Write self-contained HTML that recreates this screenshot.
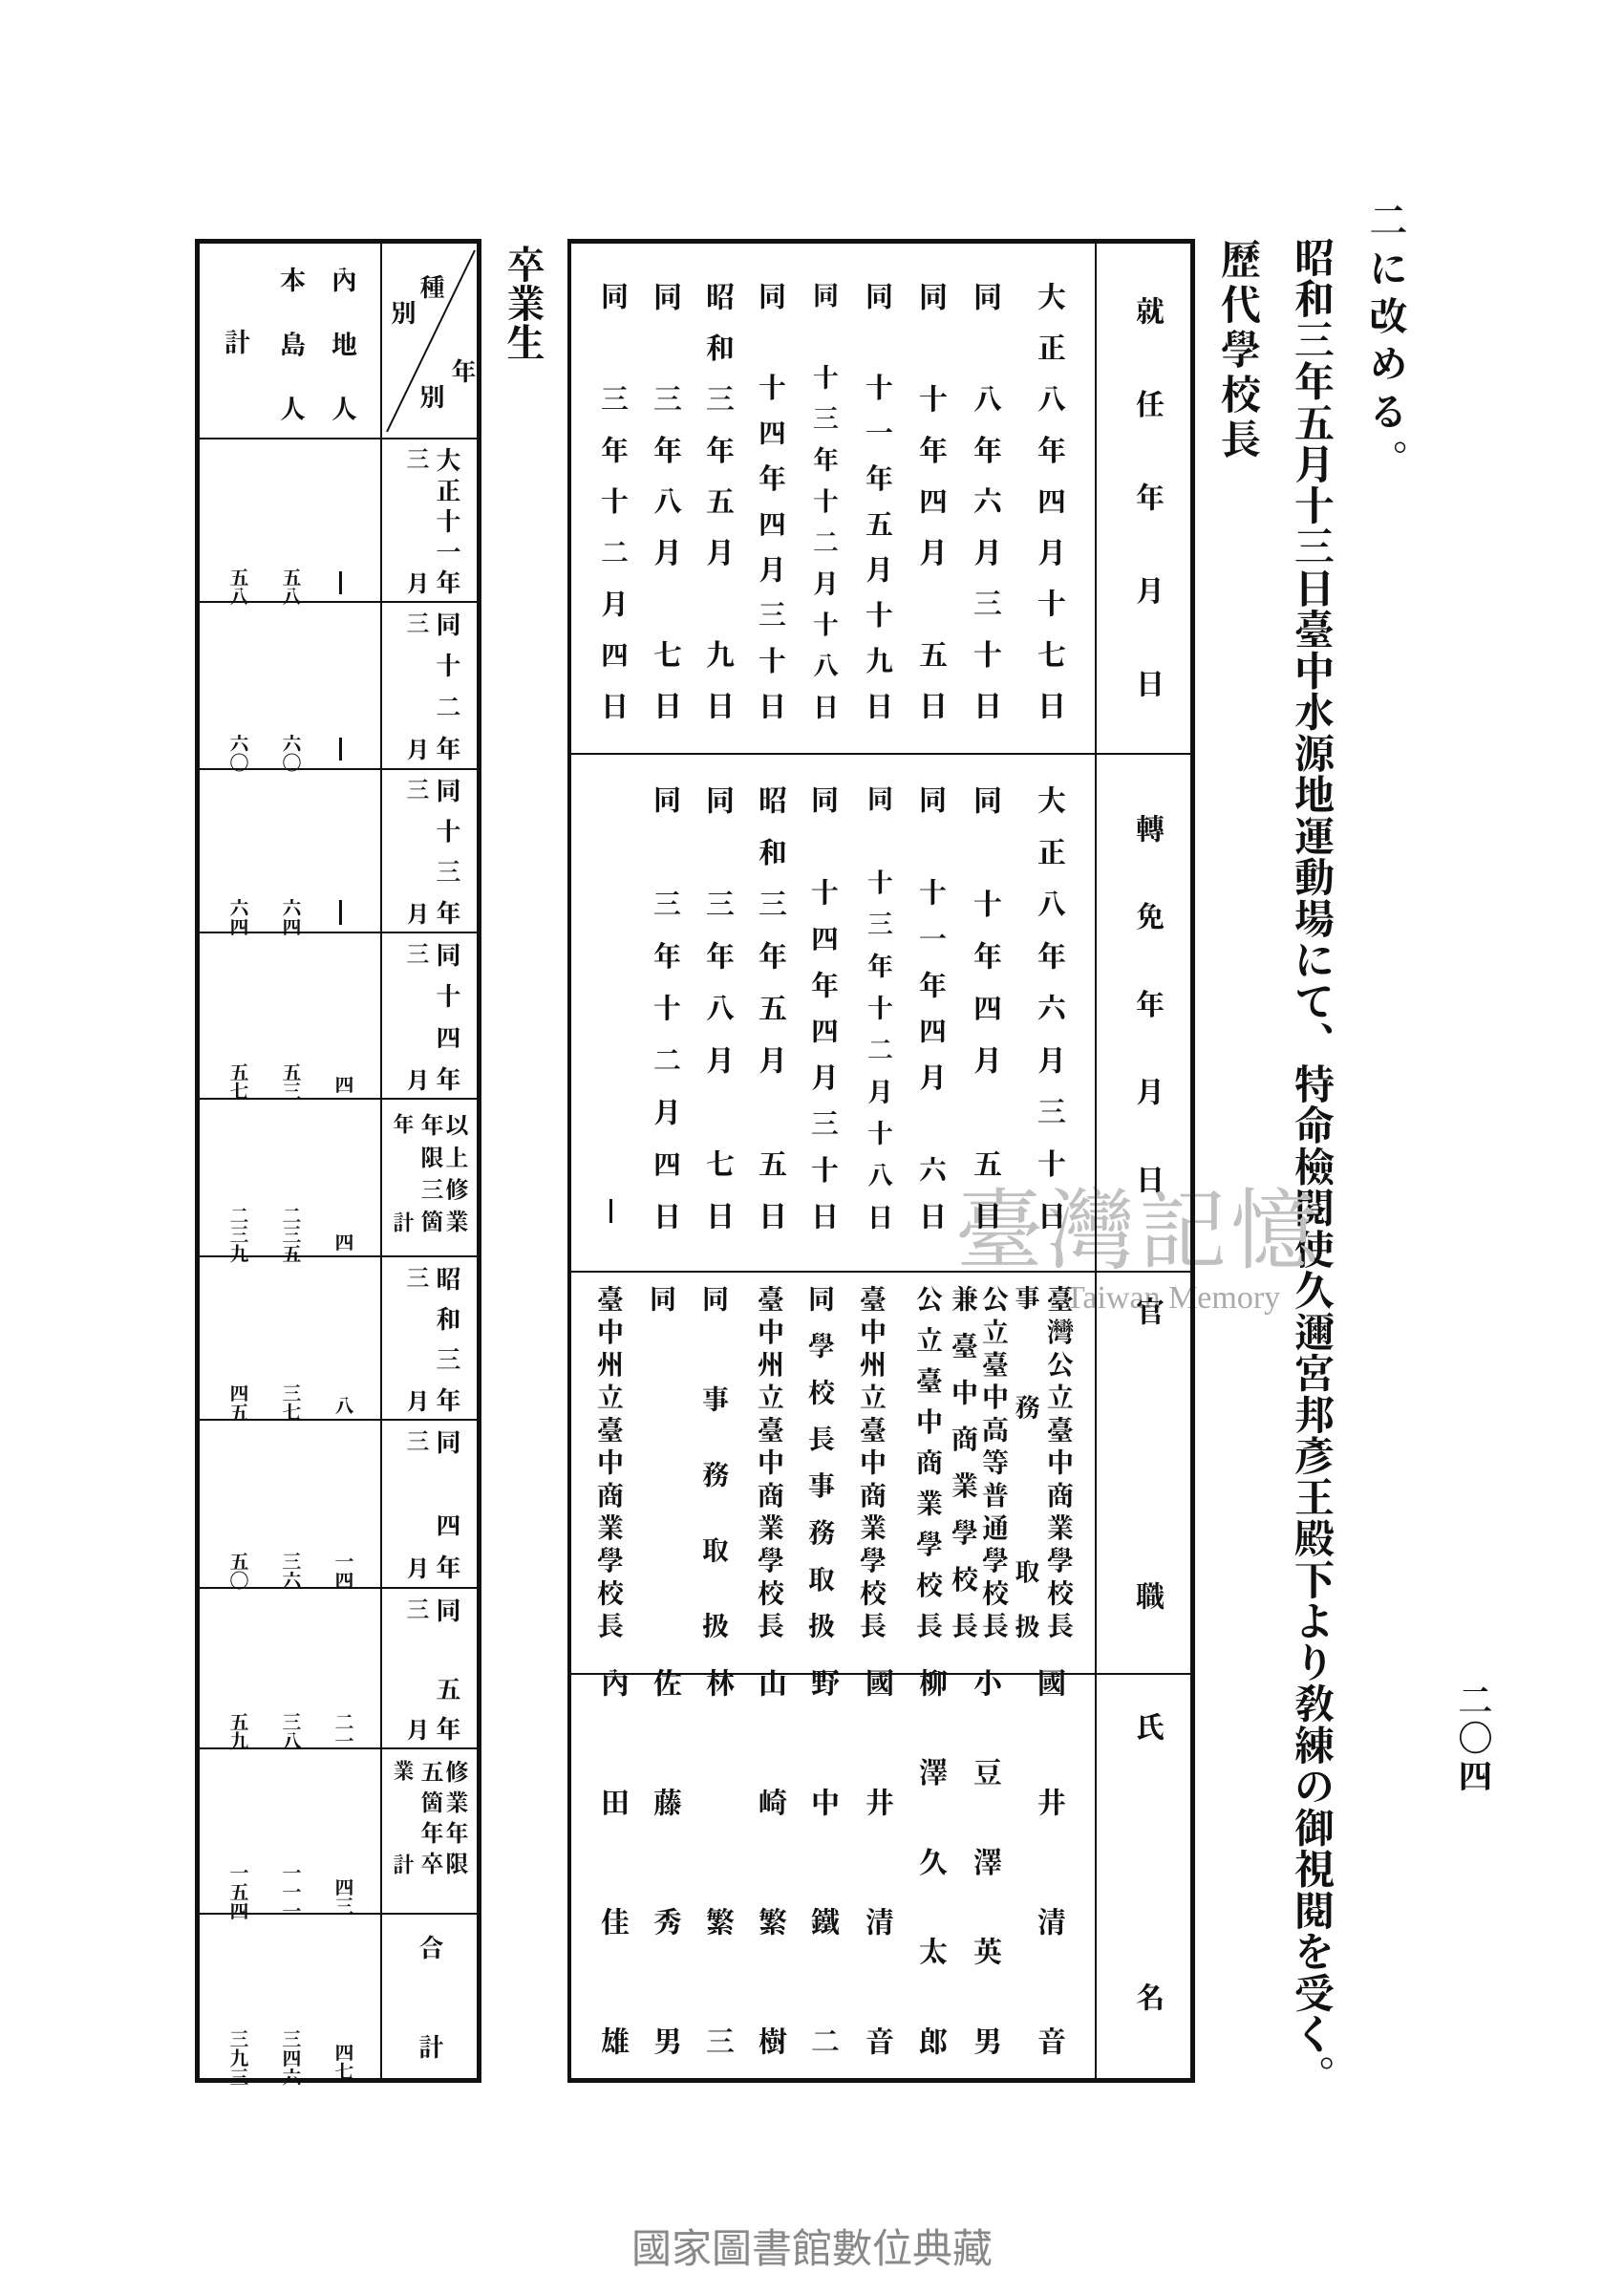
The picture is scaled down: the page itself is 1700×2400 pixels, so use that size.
<!DOCTYPE html>
<html><head><meta charset="utf-8">
<style>
html,body{margin:0;padding:0;background:#fff;}
#p{position:relative;width:1700px;height:2400px;overflow:hidden;background:#fff;}
.c{position:absolute;writing-mode:vertical-rl;text-align:justify;text-align-last:justify;line-height:1;font-family:"Liberation Serif","Noto Serif CJK JP","Noto Serif CJK SC",serif;font-weight:bold;color:#111;white-space:nowrap;}
.n{position:absolute;writing-mode:vertical-rl;line-height:0.75;font-family:"Liberation Serif","Noto Serif CJK JP",serif;font-weight:bold;font-size:20px;width:20px;color:#111;}
.l{position:absolute;background:#111;}
</style></head><body><div id="p">

<div class="c" style="left:1430px;top:210px;height:290px;font-size:40px;width:40px">二に改める。</div>
<div class="c" style="left:1351px;top:248px;height:1945px;font-size:42px;width:42px">昭和三年五月十三日臺中水源地運動場にて、特命檢閱使久邇宮邦彥王殿下より敎練の御視閱を受く。</div>
<div class="c" style="left:1274px;top:250px;height:230px;font-size:42px;width:42px">歷代學校長</div>
<div class="c" style="left:1524px;top:1761px;height:115px;font-size:36px;width:36px">二〇四</div>
<div class="c" style="left:527px;top:256px;height:122px;font-size:40px;width:40px">卒業生</div>

<div style="position:absolute;left:1000px;top:1215px;font-family:'Noto Serif CJK SC',serif;font-size:92px;color:#c0c0c0;letter-spacing:4px">臺灣記憶</div>
<div style="position:absolute;left:1115px;top:1340px;font-family:'Liberation Serif',serif;font-size:34px;color:#aaa">Taiwan Memory</div>

<div style="position:absolute;left:650px;top:2320px;width:400px;text-align:center;font-family:'Liberation Sans','Noto Sans CJK TC',sans-serif;font-size:42px;color:#888">國家圖書館數位典藏</div>

<div class="l" style="left:595px;top:250px;width:656px;height:5px"></div>
<div class="l" style="left:595px;top:2175px;width:656px;height:5px"></div>
<div class="l" style="left:594px;top:250px;width:4px;height:1930px"></div>
<div class="l" style="left:1246px;top:250px;width:5px;height:1930px"></div>
<div class="l" style="left:1146px;top:255px;width:2px;height:1922px"></div>
<div class="l" style="left:598px;top:788px;width:650px;height:2px"></div>
<div class="l" style="left:598px;top:1330px;width:650px;height:2px"></div>
<div class="l" style="left:598px;top:1751px;width:650px;height:2px"></div>

<div class="c" style="left:1185px;top:310px;height:420px;font-size:30px;width:30px">就任年月日</div>
<div class="c" style="left:1185px;top:852px;height:397px;font-size:30px;width:30px">轉免年月日</div>
<div class="c" style="left:1185px;top:1357px;height:30px;font-size:30px;width:30px">官</div>
<div class="c" style="left:1185px;top:1655px;height:30px;font-size:30px;width:30px">職</div>
<div class="c" style="left:1185px;top:1792px;height:30px;font-size:30px;width:30px">氏</div>
<div class="c" style="left:1185px;top:2075px;height:30px;font-size:30px;width:30px">名</div>

<div class="c" style="left:1082px;top:295px;height:458px;font-size:30px;width:30px">大正八年四月十七日</div>
<div class="c" style="left:1015px;top:295px;height:458px;font-size:30px;width:30px">同　八年六月三十日</div>
<div class="c" style="left:958px;top:295px;height:458px;font-size:30px;width:30px">同　十年四月　五日</div>
<div class="c" style="left:902px;top:295px;height:458px;font-size:29px;width:30px">同　十一年五月十九日</div>
<div class="c" style="left:845px;top:295px;height:458px;font-size:27px;width:30px">同　十三年十二月十八日</div>
<div class="c" style="left:790px;top:295px;height:458px;font-size:29px;width:30px">同　十四年四月三十日</div>
<div class="c" style="left:735px;top:295px;height:458px;font-size:30px;width:30px">昭和三年五月　九日</div>
<div class="c" style="left:680px;top:295px;height:458px;font-size:30px;width:30px">同　三年八月　七日</div>
<div class="c" style="left:625px;top:295px;height:458px;font-size:29px;width:30px">同　三年十二月四日</div>

<div class="c" style="left:1082px;top:822px;height:465px;font-size:30px;width:30px">大正八年六月三十日</div>
<div class="c" style="left:1015px;top:822px;height:465px;font-size:30px;width:30px">同　十年四月　五日</div>
<div class="c" style="left:958px;top:822px;height:465px;font-size:29px;width:30px">同　十一年四月　六日</div>
<div class="c" style="left:902px;top:822px;height:465px;font-size:27px;width:30px">同　十三年十二月十八日</div>
<div class="c" style="left:845px;top:822px;height:465px;font-size:29px;width:30px">同　十四年四月三十日</div>
<div class="c" style="left:790px;top:822px;height:465px;font-size:30px;width:30px">昭和三年五月　五日</div>
<div class="c" style="left:735px;top:822px;height:465px;font-size:30px;width:30px">同　三年八月　七日</div>
<div class="c" style="left:680px;top:822px;height:465px;font-size:29px;width:30px">同　三年十二月四日</div>
<div class="l" style="left:638px;top:1255px;width:3px;height:25px"></div>

<div class="c" style="left:1093px;top:1345px;height:370px;font-size:28px;width:28px">臺灣公立臺中商業學校長</div>
<div class="c" style="left:1060px;top:1345px;height:370px;font-size:26px;width:26px">事　務　　取扱</div>
<div class="c" style="left:1025px;top:1345px;height:370px;font-size:28px;width:28px">公立臺中高等普通學校長</div>
<div class="c" style="left:993px;top:1345px;height:370px;font-size:28px;width:28px">兼臺中商業學校長</div>
<div class="c" style="left:956px;top:1345px;height:370px;font-size:28px;width:28px">公立臺中商業學校長</div>
<div class="c" style="left:897px;top:1345px;height:370px;font-size:28px;width:28px">臺中州立臺中商業學校長</div>
<div class="c" style="left:843px;top:1345px;height:370px;font-size:28px;width:28px">同學校長事務取扱</div>
<div class="c" style="left:790px;top:1345px;height:370px;font-size:28px;width:28px">臺中州立臺中商業學校長</div>
<div class="c" style="left:732px;top:1345px;height:28px;font-size:28px;width:28px">同</div>
<div class="c" style="left:732px;top:1450px;height:265px;font-size:28px;width:28px">事務取扱</div>
<div class="c" style="left:677px;top:1345px;height:28px;font-size:28px;width:28px">同</div>
<div class="c" style="left:622px;top:1345px;height:370px;font-size:28px;width:28px">臺中州立臺中商業學校長</div>

<div class="c" style="left:1082px;top:1746px;height:405px;font-size:30px;width:30px">國井清音</div>
<div class="c" style="left:1015px;top:1746px;height:405px;font-size:30px;width:30px">小豆澤英男</div>
<div class="c" style="left:958px;top:1746px;height:405px;font-size:30px;width:30px">柳澤久太郎</div>
<div class="c" style="left:902px;top:1746px;height:405px;font-size:30px;width:30px">國井清音</div>
<div class="c" style="left:845px;top:1746px;height:405px;font-size:30px;width:30px">野中鐵二</div>
<div class="c" style="left:790px;top:1746px;height:405px;font-size:30px;width:30px">山崎繁樹</div>
<div class="c" style="left:735px;top:1746px;height:405px;font-size:30px;width:30px">林　繁三</div>
<div class="c" style="left:680px;top:1746px;height:405px;font-size:30px;width:30px">佐藤秀男</div>
<div class="c" style="left:625px;top:1746px;height:405px;font-size:30px;width:30px">內田佳雄</div>

<div class="l" style="left:204px;top:250px;width:300px;height:5px"></div>
<div class="l" style="left:204px;top:2175px;width:300px;height:5px"></div>
<div class="l" style="left:204px;top:250px;width:5px;height:1930px"></div>
<div class="l" style="left:499px;top:250px;width:5px;height:1930px"></div>
<div class="l" style="left:398px;top:255px;width:2px;height:1922px"></div>
<div class="l" style="left:209px;top:458px;width:290px;height:2px"></div>
<div class="l" style="left:209px;top:629px;width:290px;height:2px"></div>
<div class="l" style="left:209px;top:804px;width:290px;height:2px"></div>
<div class="l" style="left:209px;top:975px;width:290px;height:2px"></div>
<div class="l" style="left:209px;top:1149px;width:290px;height:2px"></div>
<div class="l" style="left:209px;top:1314px;width:290px;height:2px"></div>
<div class="l" style="left:209px;top:1485px;width:290px;height:2px"></div>
<div class="l" style="left:209px;top:1661px;width:290px;height:2px"></div>
<div class="l" style="left:209px;top:1829px;width:290px;height:2px"></div>
<div class="l" style="left:209px;top:2002px;width:290px;height:2px"></div>
<svg style="position:absolute;left:0;top:0" width="1700" height="2400"><line x1="497" y1="262" x2="405" y2="452" stroke="#111" stroke-width="2"/></svg>

<div class="c" style="left:344px;top:279px;height:162px;font-size:27px;width:27px">內地人</div>
<div class="c" style="left:290px;top:279px;height:162px;font-size:27px;width:27px">本島人</div>
<div class="c" style="left:232px;top:344px;height:27px;font-size:27px;width:27px">計</div>
<div class="c" style="left:437px;top:287px;height:26px;font-size:26px;width:26px">種</div>
<div class="c" style="left:407px;top:314px;height:26px;font-size:26px;width:26px">別</div>
<div class="c" style="left:470px;top:375px;height:26px;font-size:26px;width:26px">年</div>
<div class="c" style="left:437px;top:402px;height:26px;font-size:26px;width:26px">別</div>

<div class="c" style="left:454px;top:468px;height:154px;font-size:26px;width:26px">大正十一年</div>
<div class="c" style="left:422px;top:468px;height:154px;font-size:24px;width:24px">三月</div>
<div class="c" style="left:454px;top:640px;height:156px;font-size:26px;width:26px">同十二年</div>
<div class="c" style="left:422px;top:640px;height:156px;font-size:24px;width:24px">三月</div>
<div class="c" style="left:454px;top:814px;height:154px;font-size:26px;width:26px">同十三年</div>
<div class="c" style="left:422px;top:814px;height:154px;font-size:24px;width:24px">三月</div>
<div class="c" style="left:454px;top:986px;height:156px;font-size:26px;width:26px">同十四年</div>
<div class="c" style="left:422px;top:986px;height:156px;font-size:24px;width:24px">三月</div>
<div class="c" style="left:463px;top:1165px;height:125px;font-size:24px;width:24px">以上修業</div>
<div class="c" style="left:437px;top:1165px;height:125px;font-size:24px;width:24px">年限三箇</div>
<div class="c" style="left:410px;top:1165px;height:125px;font-size:22px;width:22px">年計</div>
<div class="c" style="left:454px;top:1325px;height:153px;font-size:26px;width:26px">昭和三年</div>
<div class="c" style="left:422px;top:1325px;height:153px;font-size:24px;width:24px">三月</div>
<div class="c" style="left:454px;top:1496px;height:157px;font-size:26px;width:26px">同　四年</div>
<div class="c" style="left:422px;top:1496px;height:157px;font-size:24px;width:24px">三月</div>
<div class="c" style="left:454px;top:1672px;height:150px;font-size:26px;width:26px">同　五年</div>
<div class="c" style="left:422px;top:1672px;height:150px;font-size:24px;width:24px">三月</div>
<div class="c" style="left:463px;top:1842px;height:120px;font-size:24px;width:24px">修業年限</div>
<div class="c" style="left:437px;top:1842px;height:120px;font-size:24px;width:24px">五箇年卒</div>
<div class="c" style="left:410px;top:1842px;height:120px;font-size:22px;width:22px">業計</div>
<div class="c" style="left:436px;top:2025px;height:130px;font-size:26px;width:26px">合計</div>

<div class="l" style="left:355px;top:598px;width:3px;height:24px"></div>
<div class="n" style="left:290px;top:594px">五八</div>
<div class="n" style="left:235px;top:594px">五八</div>
<div class="l" style="left:355px;top:772px;width:3px;height:24px"></div>
<div class="n" style="left:290px;top:768px">六〇</div>
<div class="n" style="left:235px;top:768px">六〇</div>
<div class="l" style="left:355px;top:942px;width:3px;height:26px"></div>
<div class="n" style="left:290px;top:940px">六四</div>
<div class="n" style="left:235px;top:940px">六四</div>
<div class="n" style="left:345px;top:1125px">四</div>
<div class="n" style="left:290px;top:1112px">五三</div>
<div class="n" style="left:235px;top:1112px">五七</div>
<div class="n" style="left:345px;top:1290px">四</div>
<div class="n" style="left:290px;top:1262px">二三五</div>
<div class="n" style="left:235px;top:1262px">二三九</div>
<div class="n" style="left:345px;top:1461px">八</div>
<div class="n" style="left:290px;top:1448px">三七</div>
<div class="n" style="left:235px;top:1448px">四五</div>
<div class="n" style="left:345px;top:1624px">一四</div>
<div class="n" style="left:290px;top:1624px">三六</div>
<div class="n" style="left:235px;top:1624px">五〇</div>
<div class="n" style="left:345px;top:1792px">二一</div>
<div class="n" style="left:290px;top:1792px">三八</div>
<div class="n" style="left:235px;top:1792px">五九</div>
<div class="n" style="left:345px;top:1965px">四三</div>
<div class="n" style="left:290px;top:1950px">一一一</div>
<div class="n" style="left:235px;top:1950px">一五四</div>
<div class="n" style="left:345px;top:2138px">四七</div>
<div class="n" style="left:290px;top:2124px">三四六</div>
<div class="n" style="left:235px;top:2124px">三九三</div>

</div></body></html>
